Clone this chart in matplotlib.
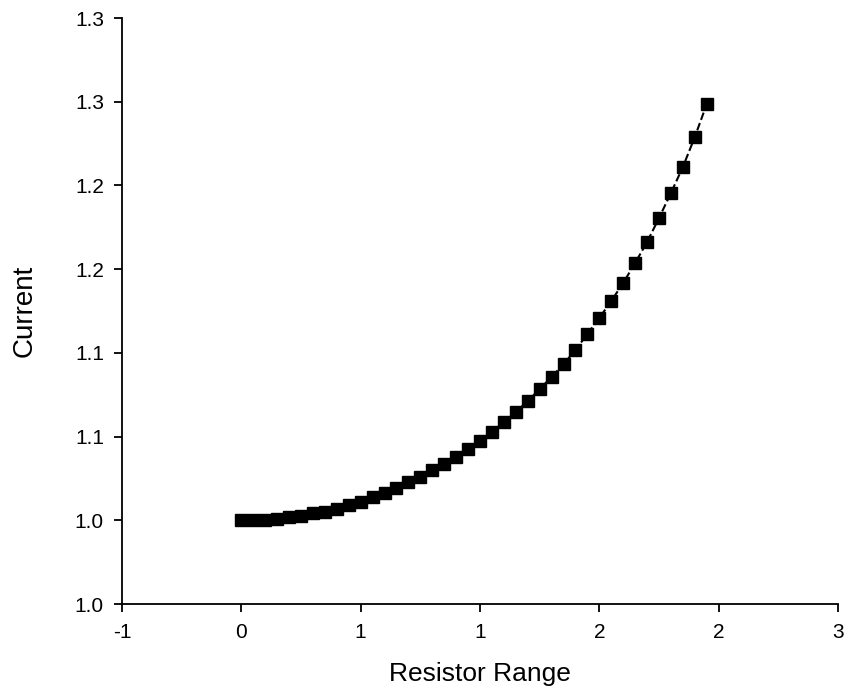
import matplotlib
matplotlib.use("Agg")
import matplotlib.pyplot as plt
import numpy as np

resistor_range = [0.00, 0.05, 0.10, 0.15, 0.20, 0.25, 0.30, 0.35, 0.40, 0.45,
                  0.50, 0.55, 0.60, 0.65, 0.70, 0.75, 0.80, 0.85, 0.90, 0.95,
                  1.00, 1.05, 1.10, 1.15, 1.20, 1.25, 1.30, 1.35, 1.40, 1.45,
                  1.50, 1.55, 1.60, 1.65, 1.70, 1.75, 1.80, 1.85, 1.90, 1.95]
current = [1.0000, 1.0000, 1.0002, 1.0008, 1.0020, 1.0026, 1.0044, 1.0049, 1.0067, 1.0091,
           1.0109, 1.0139, 1.0163, 1.0193, 1.0229, 1.0259, 1.0300, 1.0336, 1.0378, 1.0426,
           1.0474, 1.0527, 1.0587, 1.0647, 1.0712, 1.0784, 1.0856, 1.0933, 1.1017, 1.1113,
           1.1208, 1.1310, 1.1417, 1.1537, 1.1662, 1.1805, 1.1955, 1.2110, 1.2289, 1.2486]

x_ticks = [-0.5, 0.0, 0.5, 1.0, 1.5, 2.0, 2.5]
x_tick_labels = ['-1', '0', '1', '1', '2', '2', '3']
y_ticks = [0.95, 1.00, 1.05, 1.10, 1.15, 1.20, 1.25, 1.30]
y_tick_labels = ['1.0', '1.0', '1.1', '1.1', '1.2', '1.2', '1.3', '1.3']

plt.rcParams['font.family'] = ['Liberation Sans', 'DejaVu Sans']

fig = plt.figure(figsize=(8.46, 6.92), dpi=100)
ax = fig.add_axes([122/846, 88/692, 716/846, 586/692])

ax.plot(resistor_range, current, linestyle='--', color='black', linewidth=1.5,
        marker='s', markersize=8, markerfacecolor='black', markeredgecolor='black')

ax.set_xlim(-0.5, 2.5)
ax.set_ylim(0.95, 1.30)
ax.set_xticks(x_ticks)
ax.set_xticklabels(x_tick_labels)
ax.set_yticks(y_ticks)
ax.set_yticklabels(y_tick_labels)

for s in ['top', 'right']:
    ax.spines[s].set_visible(False)
for s in ['left', 'bottom']:
    ax.spines[s].set_linewidth(1.3)
    ax.spines[s].set_color('black')

ax.tick_params(axis='both', direction='out', length=6, width=1.3, labelsize=15,
               colors='black')
ax.tick_params(axis='x', pad=8)
ax.tick_params(axis='y', pad=7)
ax.set_xlabel('Resistor Range', fontsize=19, labelpad=14)
ax.set_ylabel('Current', fontsize=20, labelpad=27)

fig.savefig('out.png', dpi=100)
